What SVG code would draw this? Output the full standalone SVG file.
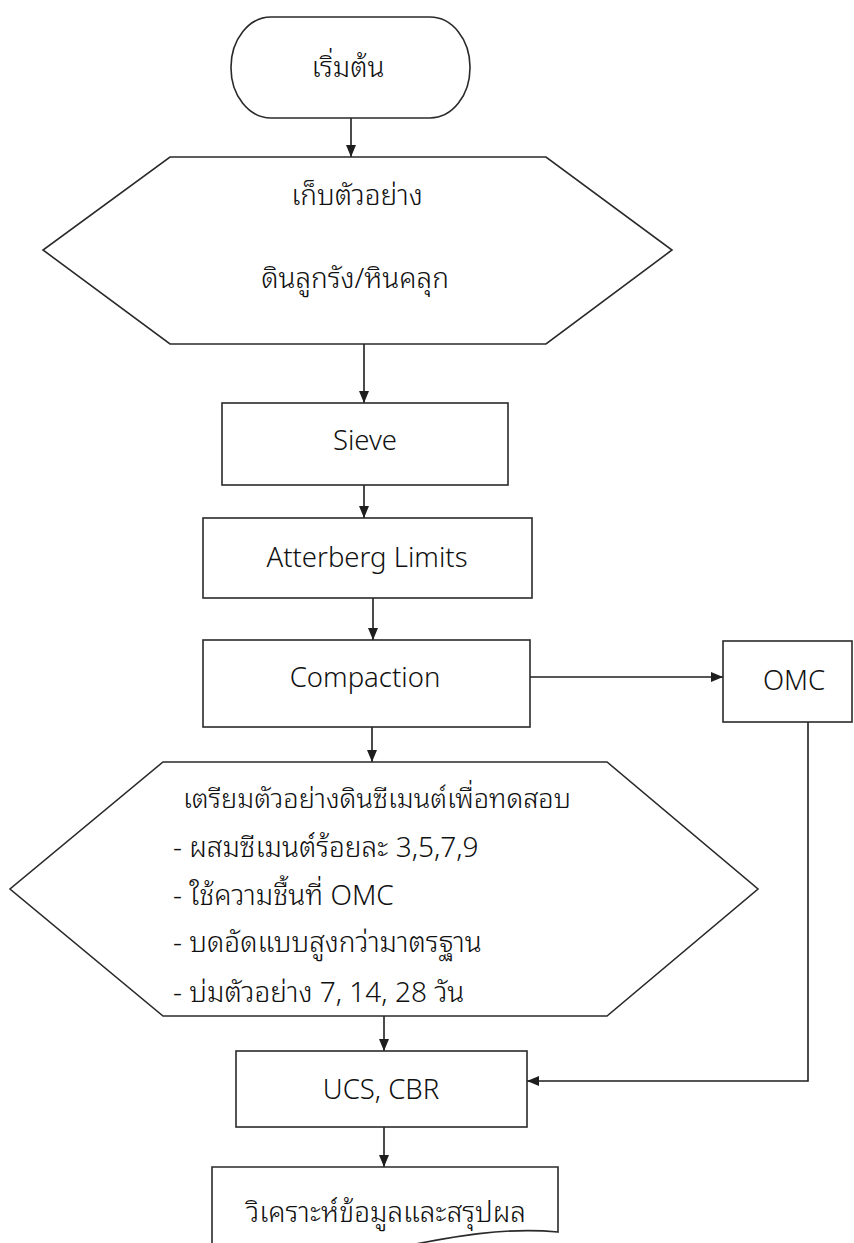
<svg xmlns="http://www.w3.org/2000/svg" width="854" height="1243" viewBox="0 0 854 1243">
<defs>
<marker id="arr" viewBox="0 0 12 10" refX="12" refY="5" markerWidth="12" markerHeight="11" markerUnits="userSpaceOnUse" orient="auto">
<path d="M0,0 L12,5 L0,10 Z" fill="#1e1e1e"/>
</marker>
<style>
.shape{fill:#ffffff;stroke:#2a2a2a;stroke-width:1.6}
.lat{font-family:"Noto Sans","Open Sans","DejaVu Sans",sans-serif;font-size:27.5px;font-weight:300;fill:#111}
.th{font-family:"Noto Sans Thai Looped","Noto Sans","Noto Sans Thai","DejaVu Sans",sans-serif;font-size:28px;font-weight:300;fill:#111}
.c{text-anchor:middle}
.conn{fill:none;stroke:#1e1e1e;stroke-width:1.6;marker-end:url(#arr)}
</style>
</defs>
<rect width="854" height="1243" fill="#ffffff"/>
<g id="connectors">
<path class="conn" d="M351,118 V157"/>
<path class="conn" d="M364,344 V403"/>
<path class="conn" d="M364,485 V518"/>
<path class="conn" d="M373,598 V640"/>
<path class="conn" d="M530,677 H723"/>
<path class="conn" d="M372,727 V762"/>
<path class="conn" d="M808,722 V1081 H527"/>
<path class="conn" d="M384,1016 V1051"/>
<path class="conn" d="M384,1127 V1167"/>
</g>
<g id="start">
<rect class="shape" x="231" y="17" width="239" height="101" rx="40" ry="50"/>
<text class="th c" x="348" y="77">เริ่มต้น</text>
</g>
<g id="collect">
<polygon class="shape" points="170,157 546,157 672,250 546,344 170,344 43,250"/>
<text class="th c" x="357" y="205">เก็บตัวอย่าง</text>
<text class="th c" x="355" y="288">ดินลูกรัง/หินคลุก</text>
</g>
<g id="sieve">
<rect class="shape" x="222" y="403" width="286" height="82"/>
<text class="lat c" x="365" y="450">Sieve</text>
</g>
<g id="atterberg">
<rect class="shape" x="203" y="518" width="329" height="80"/>
<text class="lat c" x="367" y="567">Atterberg Limits</text>
</g>
<g id="compaction">
<rect class="shape" x="203" y="640" width="327" height="87"/>
<text class="lat c" x="365" y="687">Compaction</text>
</g>
<g id="omc">
<rect class="shape" x="723" y="641" width="129" height="81"/>
<text class="lat c" x="794" y="690">OMC</text>
</g>
<g id="prepare">
<polygon class="shape" points="163,762 607,762 758,889 607,1016 163,1016 10,889"/>
<text class="th" x="183" y="808" style="font-size:27.2px">เตรียมตัวอย่างดินซีเมนต์เพื่อทดสอบ</text>
<text class="th" x="173" y="857">- ผสมซีเมนต์ร้อยละ 3,5,7,9</text>
<text class="th" x="173" y="905">- ใช้ความชื้นที่ OMC</text>
<text class="th" x="173" y="952">- บดอัดแบบสูงกว่ามาตรฐาน</text>
<text class="th" x="173" y="1002">- บ่มตัวอย่าง 7, 14, 28 วัน</text>
</g>
<g id="test">
<rect class="shape" x="236" y="1051" width="291" height="76"/>
<text class="lat c" x="381" y="1099">UCS, CBR</text>
</g>
<g id="analyze">
<path class="shape" d="M212,1167 H558 V1232 C505,1227 455,1236 395,1248 C320,1262 260,1262 212,1254 Z"/>
<text class="th c" x="386" y="1222">วิเคราะห์ข้อมูลและสรุปผล</text>
</g>
</svg>
